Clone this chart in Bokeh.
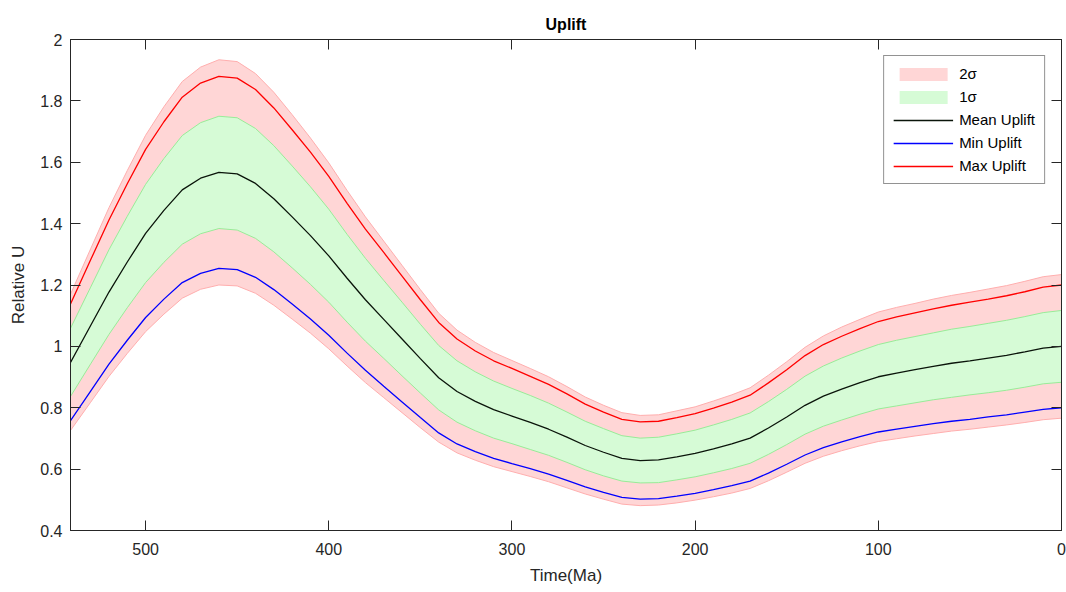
from bokeh.plotting import figure
from bokeh.models import (Range1d, LinearAxis, FixedTicker, CustomJSTickFormatter,
                          Legend, LegendItem)
from bokeh.embed import file_html
from bokeh.resources import INLINE

time_ma = [541, 530, 520, 510, 500, 490, 480, 470, 460, 450, 440, 430, 420, 410, 400,
           390, 380, 370, 360, 350, 340, 330, 320, 310, 300, 290, 280, 270, 260, 250,
           240, 230, 220, 210, 200, 190, 180, 170, 160, 150, 140, 130, 120, 110, 100,
           90, 80, 70, 60, 50, 40, 30, 20, 10, 0]

mean_uplift = [0.948, 1.068, 1.177, 1.275, 1.368, 1.443, 1.510, 1.548, 1.567, 1.562,
               1.531, 1.481, 1.422, 1.361, 1.295, 1.222, 1.152, 1.088, 1.024, 0.960,
               0.898, 0.853, 0.821, 0.794, 0.773, 0.752, 0.730, 0.704, 0.677, 0.655,
               0.635, 0.628, 0.630, 0.640, 0.651, 0.666, 0.682, 0.701, 0.734, 0.770,
               0.808, 0.838, 0.861, 0.882, 0.901, 0.913, 0.924, 0.935, 0.945, 0.953,
               0.962, 0.971, 0.982, 0.994, 1.000]

max_uplift = [1.138, 1.282, 1.412, 1.530, 1.642, 1.732, 1.812, 1.858, 1.880, 1.874,
              1.837, 1.777, 1.706, 1.633, 1.554, 1.466, 1.382, 1.306, 1.229, 1.152,
              1.078, 1.024, 0.985, 0.953, 0.928, 0.902, 0.876, 0.845, 0.812, 0.786,
              0.762, 0.754, 0.756, 0.768, 0.781, 0.799, 0.818, 0.841, 0.881, 0.924,
              0.970, 1.006, 1.033, 1.058, 1.081, 1.096, 1.109, 1.122, 1.134, 1.144,
              1.154, 1.165, 1.178, 1.193, 1.200]

min_uplift = [0.758, 0.854, 0.942, 1.020, 1.094, 1.154, 1.208, 1.238, 1.254, 1.250,
              1.225, 1.185, 1.138, 1.089, 1.036, 0.978, 0.922, 0.870, 0.819, 0.768,
              0.718, 0.682, 0.657, 0.635, 0.618, 0.602, 0.584, 0.563, 0.542, 0.524,
              0.508, 0.502, 0.504, 0.512, 0.521, 0.533, 0.546, 0.561, 0.587, 0.616,
              0.646, 0.670, 0.689, 0.706, 0.721, 0.730, 0.739, 0.748, 0.756, 0.762,
              0.770, 0.777, 0.786, 0.795, 0.800]

sigma1_upper = [1.059, 1.193, 1.315, 1.424, 1.528, 1.612, 1.687, 1.729, 1.750, 1.745,
                1.710, 1.654, 1.588, 1.520, 1.447, 1.365, 1.287, 1.215, 1.144, 1.072,
                1.003, 0.953, 0.917, 0.887, 0.863, 0.840, 0.815, 0.786, 0.756, 0.732,
                0.709, 0.701, 0.704, 0.715, 0.727, 0.744, 0.762, 0.783, 0.820, 0.860,
                0.903, 0.936, 0.962, 0.985, 1.006, 1.020, 1.032, 1.044, 1.056, 1.065,
                1.075, 1.085, 1.097, 1.110, 1.117]

sigma1_lower = [0.837, 0.943, 1.039, 1.126, 1.208, 1.274, 1.333, 1.367, 1.384, 1.379,
                1.352, 1.308, 1.256, 1.202, 1.144, 1.079, 1.017, 0.961, 0.904, 0.848,
                0.793, 0.753, 0.725, 0.701, 0.683, 0.664, 0.645, 0.622, 0.598, 0.578,
                0.561, 0.555, 0.556, 0.565, 0.575, 0.588, 0.602, 0.619, 0.648, 0.680,
                0.714, 0.740, 0.760, 0.779, 0.796, 0.806, 0.816, 0.826, 0.834, 0.842,
                0.849, 0.857, 0.867, 0.878, 0.883]

sigma2_upper = [1.170, 1.318, 1.452, 1.573, 1.688, 1.781, 1.863, 1.910, 1.934, 1.928,
                1.889, 1.828, 1.755, 1.679, 1.598, 1.508, 1.422, 1.343, 1.264, 1.185,
                1.108, 1.053, 1.013, 0.980, 0.954, 0.928, 0.901, 0.869, 0.835, 0.808,
                0.784, 0.775, 0.777, 0.790, 0.803, 0.822, 0.842, 0.865, 0.906, 0.950,
                0.997, 1.034, 1.063, 1.088, 1.112, 1.127, 1.140, 1.154, 1.166, 1.176,
                1.187, 1.198, 1.212, 1.227, 1.234]

sigma2_lower = [0.726, 0.818, 0.902, 0.977, 1.048, 1.105, 1.157, 1.186, 1.200, 1.197,
                1.173, 1.134, 1.089, 1.043, 0.992, 0.936, 0.882, 0.833, 0.784, 0.735,
                0.688, 0.653, 0.629, 0.608, 0.592, 0.576, 0.559, 0.539, 0.519, 0.502,
                0.486, 0.481, 0.483, 0.490, 0.499, 0.510, 0.522, 0.537, 0.562, 0.590,
                0.619, 0.642, 0.660, 0.676, 0.690, 0.699, 0.708, 0.716, 0.724, 0.730,
                0.737, 0.744, 0.752, 0.761, 0.766]

x_ticks = [0, 100, 200, 300, 400, 500]
y_ticks = [0.4, 0.6, 0.8, 1.0, 1.2, 1.4, 1.6, 1.8, 2.0]

FONT = "Liberation Sans"
AX = "#262626"

p = figure(width=1066, height=592, output_backend="svg", toolbar_location=None,
           x_range=Range1d(541, 0), y_range=Range1d(0.4, 2.0),
           min_border_left=70, min_border_right=5, min_border_top=39,
           min_border_bottom=62, title="Uplift")
p.background_fill_color = "white"
p.border_fill_color = "white"
p.outline_line_color = AX
p.xgrid.visible = False
p.ygrid.visible = False

p.title.align = "center"
p.title.text_font = FONT
p.title.text_font_size = "16px"
p.title.text_font_style = "bold"
p.title.text_color = "black"
p.title.standoff = 14

fmt = CustomJSTickFormatter(code="return String(Math.round(tick*10)/10);")

def style_axis(ax, ticks, labels=True):
    ax.ticker = FixedTicker(ticks=ticks)
    ax.axis_line_color = AX
    ax.major_tick_line_color = AX
    ax.major_tick_in = 10
    ax.major_tick_out = 0
    ax.minor_tick_line_color = None
    ax.major_label_text_font = FONT
    ax.major_label_text_color = AX
    if labels:
        ax.major_label_text_font_size = "16px"
        ax.formatter = fmt
    else:
        ax.major_label_text_font_size = "1px"
        ax.major_label_text_alpha = 0
        ax.major_label_standoff = 0

style_axis(p.xaxis[0], x_ticks)
style_axis(p.yaxis[0], y_ticks)
p.xaxis[0].major_label_standoff = 12
p.yaxis[0].major_label_standoff = 8
p.xaxis[0].axis_label = "Time(Ma)"
p.yaxis[0].axis_label = "Relative U"
for ax in (p.xaxis[0], p.yaxis[0]):
    ax.axis_label_text_font = FONT
    ax.axis_label_text_font_size = "17px"
    ax.axis_label_text_font_style = "normal"
    ax.axis_label_text_color = AX
p.xaxis[0].axis_label_standoff = 8
p.yaxis[0].axis_label_standoff = 9

top_ax = LinearAxis()
style_axis(top_ax, x_ticks, labels=False)
p.add_layout(top_ax, "above")
right_ax = LinearAxis()
style_axis(right_ax, y_ticks, labels=False)
p.add_layout(right_ax, "right")

PINK_FILL = "#FFD6D6"
PINK_EDGE = "#FFAEAE"
GREEN_FILL = "#D6FBD6"
GREEN_EDGE = "#98EC98"

r2 = p.varea(x=time_ma, y1=sigma2_lower, y2=sigma2_upper, fill_color=PINK_FILL)
p.line(time_ma, sigma2_upper, line_color=PINK_EDGE, line_width=1)
p.line(time_ma, sigma2_lower, line_color=PINK_EDGE, line_width=1)
r1 = p.varea(x=time_ma, y1=sigma1_lower, y2=sigma1_upper, fill_color=GREEN_FILL)
p.line(time_ma, sigma1_upper, line_color=GREEN_EDGE, line_width=1)
p.line(time_ma, sigma1_lower, line_color=GREEN_EDGE, line_width=1)
rm = p.line(time_ma, mean_uplift, line_color="#0a140a", line_width=1.3)
rmin = p.line(time_ma, min_uplift, line_color="#0000FF", line_width=1.3)
rmax = p.line(time_ma, max_uplift, line_color="#FF0000", line_width=1.3)

legend = Legend(items=[
    LegendItem(label="2σ", renderers=[r2]),
    LegendItem(label="1σ", renderers=[r1]),
    LegendItem(label="Mean Uplift", renderers=[rm]),
    LegendItem(label="Min Uplift", renderers=[rmin]),
    LegendItem(label="Max Uplift", renderers=[rmax]),
], location="top_right")
legend.margin = 16
legend.padding = 9
legend.spacing = 6
legend.glyph_width = 60
legend.glyph_height = 16
legend.label_height = 15
legend.label_standoff = 6
legend.label_text_font = FONT
legend.label_text_font_size = "15px"
legend.label_text_color = "black"
legend.border_line_color = AX
legend.border_line_width = 1
legend.background_fill_color = "white"
legend.background_fill_alpha = 1
p.add_layout(legend)

open("out.html", "w").write(file_html(p, INLINE))
